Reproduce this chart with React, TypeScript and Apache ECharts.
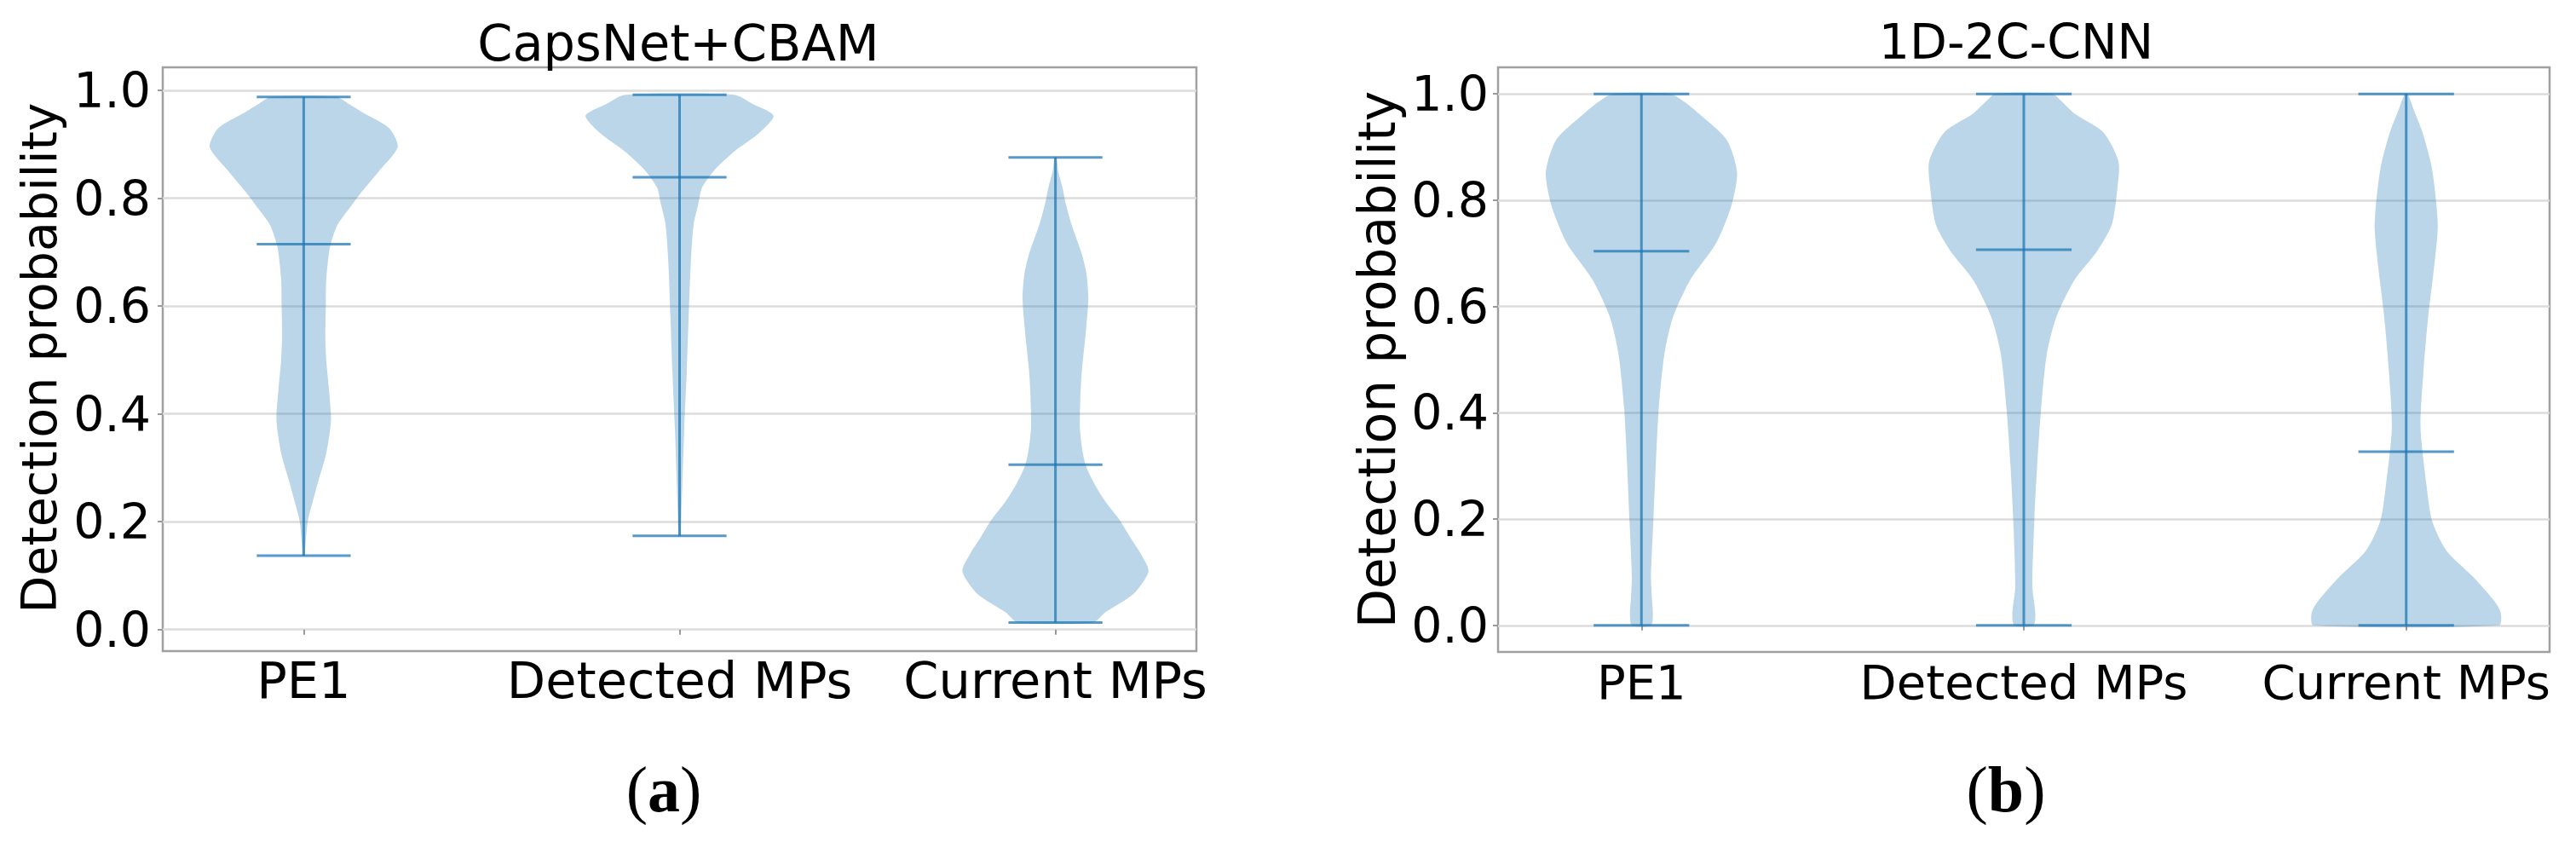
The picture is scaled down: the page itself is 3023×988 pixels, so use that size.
import React, { useEffect, useRef } from "react";
import * as echarts from "echarts";

const categories = ["PE1", "Detected MPs", "Current MPs"];
const positions = [1, 2, 3];
const yTicks = [0, 0.2, 0.4, 0.6, 0.8, 1.0];
const xTicks = [1, 2, 3];

// ---- (a) CapsNet+CBAM ----
const capsMin = [0.137, 0.174, 0.013];
const capsMean = [0.715, 0.839, 0.306];
const capsMax = [0.988, 0.992, 0.876];

const capsPE1Y = [0.137, 0.16, 0.203, 0.24, 0.272, 0.327, 0.388, 0.443, 0.5, 0.546, 0.6, 0.649, 0.71, 0.751, 0.78, 0.806, 0.85, 0.895, 0.93, 0.958, 0.975, 0.988];
const capsPE1W = [0.01, 0.02, 0.045, 0.1, 0.15, 0.24, 0.29, 0.27, 0.24, 0.23, 0.235, 0.24, 0.28, 0.36, 0.48, 0.59, 0.8, 1.0, 0.91, 0.64, 0.48, 0.35];

const capsDetY = [0.174, 0.22, 0.272, 0.375, 0.477, 0.58, 0.683, 0.752, 0.79, 0.82, 0.854, 0.888, 0.92, 0.953, 0.975, 0.992];
const capsDetW = [0.01, 0.02, 0.03, 0.05, 0.076, 0.097, 0.12, 0.15, 0.2, 0.24, 0.38, 0.59, 0.84, 1.0, 0.78, 0.58];

const capsCurY = [0.013, 0.032, 0.066, 0.108, 0.14, 0.17, 0.204, 0.238, 0.272, 0.306, 0.34, 0.375, 0.43, 0.478, 0.546, 0.614, 0.66, 0.697, 0.752, 0.79, 0.82, 0.85, 0.876];
const capsCurW = [0.4, 0.53, 0.83, 0.99, 0.91, 0.8, 0.68, 0.53, 0.41, 0.32, 0.28, 0.26, 0.265, 0.28, 0.32, 0.35, 0.33, 0.28, 0.17, 0.11, 0.075, 0.03, 0.01];

// ---- (b) 1D-2C-CNN ----
const cnnMin = [0.0, 0.0, 0.0];
const cnnMean = [0.704, 0.707, 0.327];
const cnnMax = [1.0, 1.0, 1.0];

const cnnPE1Y = [0.0, 0.023, 0.05, 0.093, 0.197, 0.302, 0.406, 0.51, 0.58, 0.65, 0.719, 0.789, 0.852, 0.914, 0.963, 0.985, 1.0];
const cnnPE1W = [0.1, 0.12, 0.11, 0.1, 0.125, 0.15, 0.18, 0.24, 0.33, 0.51, 0.78, 0.94, 1.0, 0.89, 0.6, 0.45, 0.3];

const cnnDetY = [0.0, 0.023, 0.072, 0.197, 0.302, 0.406, 0.51, 0.58, 0.65, 0.705, 0.754, 0.824, 0.873, 0.928, 0.963, 0.985, 1.0];
const cnnDetW = [0.1, 0.12, 0.09, 0.11, 0.14, 0.18, 0.24, 0.34, 0.53, 0.77, 0.92, 0.98, 0.99, 0.83, 0.53, 0.4, 0.3];

const cnnCurY = [0.0, 0.023, 0.044, 0.093, 0.141, 0.197, 0.267, 0.372, 0.476, 0.58, 0.671, 0.754, 0.859, 0.928, 0.97, 1.0];
const cnnCurW = [0.97, 0.99, 0.93, 0.69, 0.42, 0.27, 0.21, 0.15, 0.18, 0.23, 0.29, 0.33, 0.27, 0.17, 0.08, 0.015];

const HALF = 0.25;
const CAP = 0.125;
const FILL = "rgba(31,119,180,0.3)";
const LINE = "rgba(31,119,180,0.75)";
const FONT = "DejaVu Sans";

type Profile = { ys: number[]; ws: number[] };

function makeRenderItem(profiles: Profile[]) {
  return (params: any, api: any) => {
    const i = params.dataIndex;
    const pos = api.value(0);
    const mn = api.value(1);
    const mean = api.value(2);
    const mx = api.value(3);
    const { ys, ws } = profiles[i];
    const right = ys.map((y, k) => api.coord([pos + ws[k] * HALF, y]));
    const left = ys.map((y, k) => api.coord([pos - ws[k] * HALF, y])).reverse();
    const pts = right.concat(left);
    const lineStyle = { stroke: LINE, lineWidth: 3 };
    const hline = (v: number) => {
      const a = api.coord([pos - CAP, v]);
      const b = api.coord([pos + CAP, v]);
      return { type: "line", shape: { x1: a[0], y1: a[1], x2: b[0], y2: b[1] }, style: lineStyle };
    };
    const top = api.coord([pos, mx]);
    const bot = api.coord([pos, mn]);
    return {
      type: "group",
      children: [
        { type: "polygon", shape: { points: pts, smooth: 0.25 }, style: { fill: FILL } },
        { type: "line", shape: { x1: top[0], y1: top[1], x2: bot[0], y2: bot[1] }, style: lineStyle },
        hline(mn),
        hline(mean),
        hline(mx),
      ],
    };
  };
}

const capsProfiles: Profile[] = [
  { ys: capsPE1Y, ws: capsPE1W },
  { ys: capsDetY, ws: capsDetW },
  { ys: capsCurY, ws: capsCurW },
];
const cnnProfiles: Profile[] = [
  { ys: cnnPE1Y, ws: cnnPE1W },
  { ys: cnnDetY, ws: cnnDetW },
  { ys: cnnCurY, ws: cnnCurW },
];

function xAxisCfg(gridIndex: number, fontSize: number, margin: number) {
  return {
    type: "value",
    gridIndex,
    min: 0.625,
    max: 3.375,
    axisLine: { show: false },
    axisTick: { show: true, customValues: xTicks, length: 6, lineStyle: { color: "#9a9a9a", width: 2 } },
    axisLabel: {
      customValues: xTicks,
      margin,
      fontSize,
      fontFamily: FONT,
      color: "#000",
      formatter: (v: number) => categories[Math.round(v) - 1] ?? "",
    },
    splitLine: { show: false },
  };
}

function yAxisCfg(gridIndex: number, min: number, max: number, fontSize: number, margin: number) {
  return {
    type: "value",
    gridIndex,
    min,
    max,
    axisLine: { show: false },
    axisTick: { show: true, customValues: yTicks, length: 6, lineStyle: { color: "#9a9a9a", width: 2 } },
    axisLabel: {
      customValues: yTicks,
      margin,
      fontSize,
      fontFamily: FONT,
      color: "#000",
      formatter: (v: number) => v.toFixed(1),
    },
    splitLine: { show: true, customValues: yTicks, lineStyle: { color: "#dcdcdc", width: 2.5 } },
  };
}

export default function App() {
  const ref = useRef<HTMLDivElement>(null);
  useEffect(() => {
    if (!ref.current) return;
    const chart = echarts.init(ref.current, undefined, { renderer: "svg" });
    const option: any = {
      animation: false,
      backgroundColor: "#fff",
      grid: [
        { left: 191, top: 79, width: 1213, height: 685, show: true, borderColor: "#a0a0a0", borderWidth: 2.5, backgroundColor: "transparent" },
        { left: 1758, top: 79, width: 1234, height: 686, show: true, borderColor: "#a0a0a0", borderWidth: 2.5, backgroundColor: "transparent" },
      ],
      xAxis: [xAxisCfg(0, 59, 5), xAxisCfg(1, 56, 7)],
      yAxis: [yAxisCfg(0, -0.04, 1.043, 57, 14), yAxisCfg(1, -0.05, 1.05, 57, 11)],
      series: [
        {
          type: "custom",
          xAxisIndex: 0,
          yAxisIndex: 0,
          renderItem: makeRenderItem(capsProfiles),
          encode: { x: 0, y: [1, 2, 3] },
          data: positions.map((p, i) => [p, capsMin[i], capsMean[i], capsMax[i]]),
        },
        {
          type: "custom",
          xAxisIndex: 1,
          yAxisIndex: 1,
          renderItem: makeRenderItem(cnnProfiles),
          encode: { x: 0, y: [1, 2, 3] },
          data: positions.map((p, i) => [p, cnnMin[i], cnnMean[i], cnnMax[i]]),
        },
      ],
      graphic: [
        { type: "text", x: 796, y: 50, style: { text: "CapsNet+CBAM", fontSize: 59, fontFamily: FONT, fill: "#000", textAlign: "center", textVerticalAlign: "middle" } },
        { type: "text", x: 2366, y: 49, style: { text: "1D-2C-CNN", fontSize: 57, fontFamily: FONT, fill: "#000", textAlign: "center", textVerticalAlign: "middle" } },
        { type: "text", x: 46, y: 420, rotation: Math.PI / 2, style: { text: "Detection probability", fontSize: 57, fontFamily: FONT, fill: "#000", textAlign: "center", textVerticalAlign: "middle" } },
        { type: "text", x: 1616, y: 422, rotation: Math.PI / 2, style: { text: "Detection probability", fontSize: 60, fontFamily: FONT, fill: "#000", textAlign: "center", textVerticalAlign: "middle" } },
        {
          type: "text", x: 779, y: 926,
          style: {
            text: "{n|(}{b|a}{n|)}", textAlign: "center", textVerticalAlign: "middle",
            rich: {
              n: { fontSize: 76, fontFamily: "Liberation Serif", fill: "#000" },
              b: { fontSize: 76, fontFamily: "Liberation Serif", fontWeight: "bold", fill: "#000" },
            },
          },
        },
        {
          type: "text", x: 2354, y: 926,
          style: {
            text: "{n|(}{b|b}{n|)}", textAlign: "center", textVerticalAlign: "middle",
            rich: {
              n: { fontSize: 76, fontFamily: "Liberation Serif", fill: "#000" },
              b: { fontSize: 76, fontFamily: "Liberation Serif", fontWeight: "bold", fill: "#000" },
            },
          },
        },
      ],
    };
    chart.setOption(option);
    return () => chart.dispose();
  }, []);
  return (
    <div style={{ position: "absolute", left: 0, top: 0, width: 3023, height: 988, background: "#fff" }}>
      <div ref={ref} style={{ width: 3023, height: 988 }} />
    </div>
  );
}
